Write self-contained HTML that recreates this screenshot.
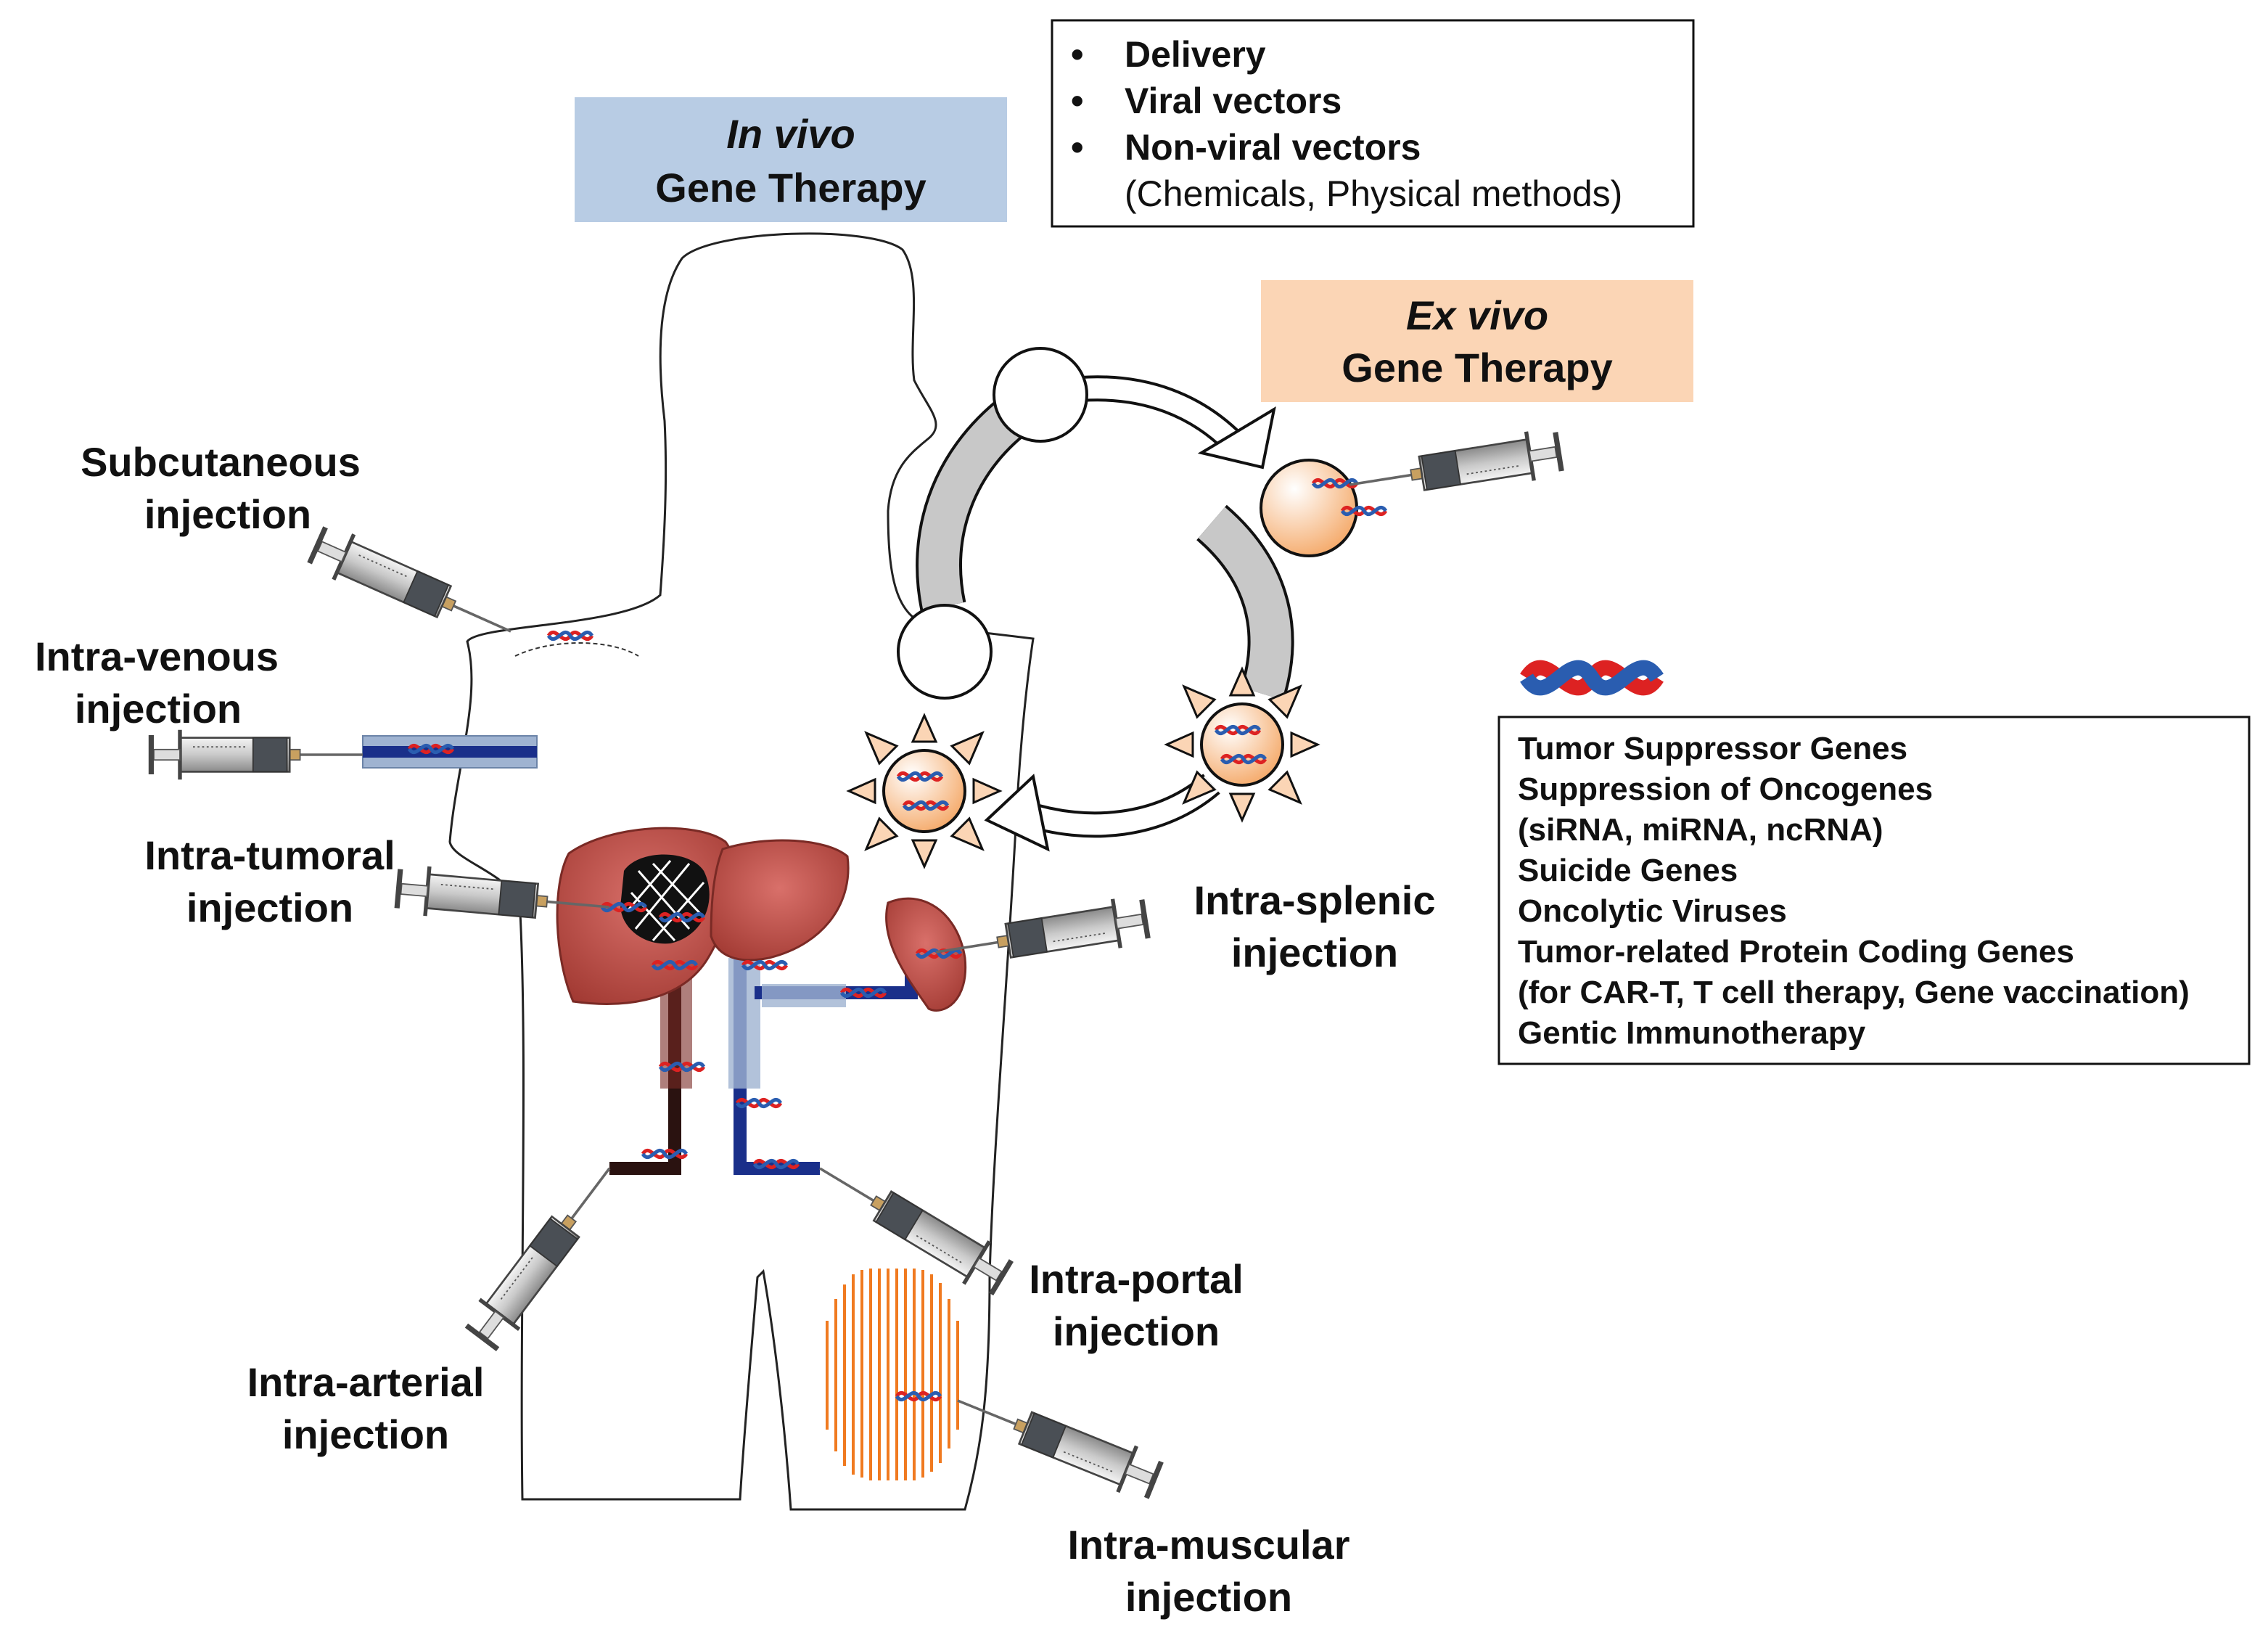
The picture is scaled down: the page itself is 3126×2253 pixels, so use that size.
<!DOCTYPE html>
<html><head><meta charset="utf-8"><style>
html,body{margin:0;padding:0;background:#fff;}
svg{display:block;}
text{font-family:"Liberation Sans",Arial,sans-serif;}
.lb{font-weight:bold;font-size:28px;text-anchor:middle;fill:#111;}
.bx{font-weight:bold;font-size:25px;fill:#111;}
.rb{font-weight:bold;font-size:22px;fill:#111;}
</style></head><body>
<svg width="3126" height="2253" viewBox="0 0 1563 1126.5" xmlns="http://www.w3.org/2000/svg">
<defs>
<linearGradient id="bar" x1="0" y1="0" x2="0" y2="1"><stop offset="0" stop-color="#f4f4f4"/><stop offset="0.5" stop-color="#c9c9c9"/><stop offset="1" stop-color="#8a8a8a"/></linearGradient>
<radialGradient id="org" cx="0.35" cy="0.3" r="0.8"><stop offset="0" stop-color="#fff"/><stop offset="1" stop-color="#f4a460"/></radialGradient>
<radialGradient id="liv" cx="0.5" cy="0.4" r="0.7"><stop offset="0" stop-color="#d9706a"/><stop offset="1" stop-color="#a23a33"/></radialGradient>
<g id="syr0">
<line x1="-48" y1="0" x2="0" y2="0" stroke="#666" stroke-width="2"/>
<rect x="-56" y="-4" width="8" height="8" fill="#c8a060" stroke="#555" stroke-width="1"/>
<rect x="-140" y="-13" width="84" height="26" fill="url(#bar)" stroke="#444" stroke-width="1.5"/>
<rect x="-84" y="-13" width="26" height="26" fill="#4a4f55" stroke="#333" stroke-width="1"/>
<line x1="-130" y1="-6" x2="-88" y2="-6" stroke="#555" stroke-width="1" stroke-dasharray="1.5 2"/>
<line x1="-140" y1="-19" x2="-140" y2="19" stroke="#444" stroke-width="3"/>
<rect x="-160" y="-4" width="20" height="8" fill="#ddd" stroke="#555" stroke-width="1"/>
<line x1="-162" y1="-15" x2="-162" y2="15" stroke="#444" stroke-width="4"/>
</g>
<g id="syr"><use href="#syr0" transform="scale(0.9)"/></g>
<g id="dna">
<path d="M0,0 C5,-8 10,8 15,0 C20,-8 25,8 30,0" fill="none" stroke="#d22" stroke-width="2.5"/>
<path d="M0,0 C5,8 10,-8 15,0 C20,8 25,-8 30,0" fill="none" stroke="#2a5db0" stroke-width="2.5"/>
</g>
<g id="dnab">
<path d="M0,0 C5,-8 10,8 15,0 C20,-8 25,8 30,0" fill="none" stroke="#d22" stroke-width="3.5"/>
<path d="M0,0 C5,8 10,-8 15,0 C20,8 25,-8 30,0" fill="none" stroke="#2a5db0" stroke-width="3.5"/>
</g>
<g id="virus">
<circle r="28" fill="url(#org)" stroke="#111" stroke-width="2"/>
<g fill="#fbd5b5" stroke="#111" stroke-width="1.5">
<polygon points="-8,-34 8,-34 0,-52"/><polygon points="-8,34 8,34 0,52"/>
<polygon points="-34,-8 -34,8 -52,0"/><polygon points="34,-8 34,8 52,0"/>
<polygon points="19,-31 31,-19 40,-40"/><polygon points="-19,-31 -31,-19 -40,-40"/>
<polygon points="19,31 31,19 40,40"/><polygon points="-19,31 -31,19 -40,40"/>
</g>
<use href="#dna" x="-18" y="-10"/>
<use href="#dna" x="-14" y="10"/>
</g>
</defs>

<path d="M455,410 C458,370 460,330 458,290 C452,240 455,200 470,178 C490,158 600,155 622,172 C636,192 626,232 630,262 C640,282 652,292 640,302 C628,312 614,322 612,352 C612,400 618,428 645,432 L712,440 C706,480 702,530 700,570 C694,680 684,800 682,880 C682,960 676,1000 665,1040 L545,1040 C540,970 532,910 526,876 L522,880 C516,950 512,1000 510,1033 L360,1033 C358,900 364,720 358,620 C345,600 312,592 310,580 C314,530 332,480 322,442 C330,430 430,432 455,410 Z" fill="none" stroke="#222" stroke-width="1.5"/>
<path d="M355,452 C380,440 420,440 440,452" fill="none" stroke="#333" stroke-width="1" stroke-dasharray="3 2"/>

<rect x="396" y="67" width="298" height="86" fill="#b8cce4"/>
<text x="545" y="102" class="lb" style="font-style:italic;">In vivo</text>
<text x="545" y="139" class="lb">Gene Therapy</text>
<rect x="725" y="14" width="442" height="142" fill="#fff" stroke="#111" stroke-width="1.5"/>
<text x="738" y="46" class="bx">•</text><text x="775" y="46" class="bx">Delivery</text>
<text x="738" y="78" class="bx">•</text><text x="775" y="78" class="bx">Viral vectors</text>
<text x="738" y="110" class="bx">•</text><text x="775" y="110" class="bx">Non-viral vectors</text>
<text x="775" y="142" style="font-size:25px;fill:#111;">(Chemicals, Physical methods)</text>
<rect x="869" y="193" width="298" height="84" fill="#fbd5b5"/>
<text x="1018" y="227" class="lb" style="font-style:italic;">Ex vivo</text>
<text x="1018" y="263" class="lb">Gene Therapy</text>

<rect x="1033" y="494" width="517" height="239" fill="#fff" stroke="#111" stroke-width="1.5"/>
<text x="1046" y="523" class="rb">Tumor Suppressor Genes</text>
<text x="1046" y="551" class="rb">Suppression of Oncogenes</text>
<text x="1046" y="579" class="rb">(siRNA, miRNA, ncRNA)</text>
<text x="1046" y="607" class="rb">Suicide Genes</text>
<text x="1046" y="635" class="rb">Oncolytic Viruses</text>
<text x="1046" y="663" class="rb">Tumor-related Protein Coding Genes</text>
<text x="1046" y="691" class="rb">(for CAR-T, T cell therapy, Gene vaccination)</text>
<text x="1046" y="719" class="rb">Gentic Immunotherapy</text>
<g transform="translate(1052,467) scale(3)"><use href="#dnab"/></g>

<text x="152" y="328" class="lb">Subcutaneous</text><text x="157" y="364" class="lb">injection</text>
<text x="108" y="462" class="lb">Intra-venous</text><text x="109" y="498" class="lb">injection</text>
<text x="186" y="599" class="lb">Intra-tumoral</text><text x="186" y="635" class="lb">injection</text>
<text x="906" y="630" class="lb">Intra-splenic</text><text x="906" y="666" class="lb">injection</text>
<text x="783" y="891" class="lb">Intra-portal</text><text x="783" y="927" class="lb">injection</text>
<text x="252" y="962" class="lb">Intra-arterial</text><text x="252" y="998" class="lb">injection</text>
<text x="833" y="1074" class="lb">Intra-muscular</text><text x="833" y="1110" class="lb">injection</text>

<path d="M700,285 C655,320 640,370 650,418" fill="none" stroke="#111" stroke-width="32"/>
<path d="M700,285 C655,320 640,370 650,418" fill="none" stroke="#c8c8c8" stroke-width="28"/>
<path d="M835,360 C870,390 885,430 870,478" fill="none" stroke="#111" stroke-width="32"/>
<path d="M835,360 C870,390 885,430 870,478" fill="none" stroke="#c8c8c8" stroke-width="28"/>
<path d="M745,268 C790,265 825,280 850,305" fill="none" stroke="#111" stroke-width="18"/>
<path d="M745,268 C790,265 825,280 850,305" fill="none" stroke="#fff" stroke-width="14"/>
<polygon points="878,282 870,322 828,312" fill="#fff" stroke="#111" stroke-width="2"/>
<path d="M835,540 C800,570 750,575 705,560" fill="none" stroke="#111" stroke-width="18"/>
<path d="M835,540 C800,570 750,575 705,560" fill="none" stroke="#fff" stroke-width="14"/>
<polygon points="680,565 712,535 722,585" fill="#fff" stroke="#111" stroke-width="2"/>
<circle cx="717" cy="272" r="32" fill="#fff" stroke="#111" stroke-width="2"/>
<circle cx="651" cy="449" r="32" fill="#fff" stroke="#111" stroke-width="2"/>
<circle cx="902" cy="350" r="33" fill="url(#org)" stroke="#111" stroke-width="2"/>
<use href="#dna" x="905" y="333"/><use href="#dna" x="925" y="352"/>
<use href="#virus" x="637" y="545"/>
<use href="#virus" x="856" y="513"/>

<rect x="250" y="507" width="120" height="22" fill="#9fb3d1" stroke="#6c84a8"/>
<rect x="250" y="514" width="120" height="8" fill="#1a2f8a"/>
<use href="#dna" x="282" y="516"/>
<path d="M465,660 L465,805 L420,805" fill="none" stroke="#2a1210" stroke-width="9"/>
<rect x="455" y="660" width="22" height="90" fill="#7a2a25" opacity="0.6"/>
<path d="M510,660 L510,805 L565,805" fill="none" stroke="#1a2f8a" stroke-width="9"/>
<rect x="502" y="660" width="22" height="90" fill="#9fb3d1" opacity="0.8"/>
<path d="M520,684 L628,684 L628,660" fill="none" stroke="#1a2f8a" stroke-width="9"/>
<rect x="525" y="678" width="58" height="16" fill="#9fb3d1" opacity="0.8"/>

<path d="M392,588 C420,568 480,565 500,580 C515,600 500,640 488,660 C470,690 430,695 395,690 C382,660 380,610 392,588 Z" fill="url(#liv)" stroke="#7a2a25" stroke-width="1.5"/>
<path d="M498,585 C530,575 570,578 584,590 C588,620 570,650 530,660 C510,664 495,660 490,645 C490,620 492,600 498,585 Z" fill="url(#liv)" stroke="#7a2a25" stroke-width="1.5"/>
<path d="M430,600 C440,585 475,585 485,600 C495,620 485,645 462,650 C440,652 425,635 428,620 Z" fill="#111"/>
<path d="M440,600 L475,640 M450,595 L485,632 M435,615 L465,648 M475,595 L438,640 M485,608 L450,648 M462,593 L432,628" stroke="#fff" stroke-width="1.5"/>
<path d="M612,622 C635,612 660,628 665,660 C668,690 650,700 640,695 C630,680 605,650 612,622 Z" fill="url(#liv)" stroke="#7a2a25" stroke-width="1.5"/>

<g stroke="#f07a20" stroke-width="2">
<path d="M570,910 L570,985 M576,895 L576,1000 M582,885 L582,1010 M588,878 L588,1016 M594,875 L594,1018 M600,874 L600,1020 M606,874 L606,1020 M612,874 L612,1020 M618,874 L618,1020 M624,874 L624,1020 M630,874 L630,1020 M636,875 L636,1018 M642,878 L642,1014 M648,884 L648,1008 M654,895 L654,998 M660,910 L660,985"/>
</g>

<use href="#dna" x="378" y="438"/>
<use href="#dna" x="415" y="625"/><use href="#dna" x="455" y="632"/>
<use href="#dna" x="450" y="665"/><use href="#dna" x="455" y="735"/>
<use href="#dna" x="443" y="795"/><use href="#dna" x="512" y="665"/>
<use href="#dna" x="508" y="760"/><use href="#dna" x="520" y="802"/>
<use href="#dna" x="580" y="684"/><use href="#dna" x="632" y="657"/>
<use href="#dna" x="618" y="962"/>

<use href="#syr" transform="translate(352,435) rotate(24)"/>
<use href="#syr" transform="translate(250,520)"/>
<use href="#syr" transform="translate(420,625) rotate(5)"/>
<use href="#syr" transform="translate(645,656) rotate(171)"/>
<use href="#syr" transform="translate(565,805) rotate(211)"/>
<use href="#syr" transform="translate(420,805) rotate(-53)"/>
<use href="#syr" transform="translate(660,965) rotate(202)"/>
<use href="#syr" transform="translate(930,334) rotate(171)"/>
</svg>
</body></html>
